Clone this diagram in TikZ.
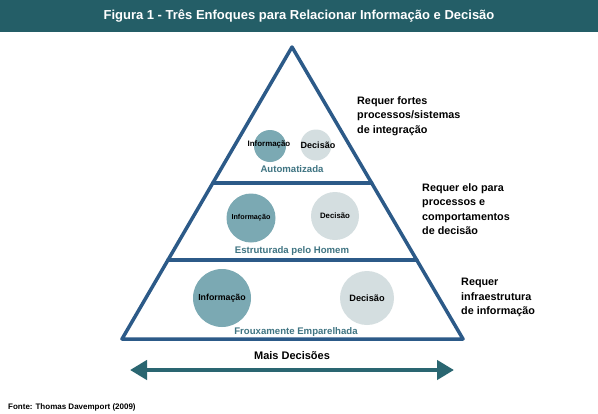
\documentclass[tikz,border=0pt]{standalone}
\usepackage{fontspec}
\setmainfont{Liberation Sans}
\usetikzlibrary{arrows.meta}
\definecolor{titlebg}{HTML}{245E67}
\definecolor{tri}{HTML}{2C5A88}
\definecolor{infoc}{HTML}{7BA9B3}
\definecolor{decc}{HTML}{D4DEE0}
\definecolor{teal}{HTML}{3F7482}
\definecolor{arr}{HTML}{2A6671}
\tikzset{
  edge/.style={draw=tri, line width=3.5pt, line cap=round, line join=round},
  info/.style={circle, fill=infoc, inner sep=0pt},
  dec/.style={circle, fill=decc, inner sep=0pt},
  clabel/.style={font=\bfseries\fontsize{#1}{#1}\selectfont, text=black, inner sep=0pt},
  slabel/.style={font=\bfseries\fontsize{9.6}{10}\selectfont, text=teal, inner sep=0pt},
  rtext/.style={font=\bfseries\fontsize{10.8}{14.5}\selectfont, align=left, anchor=north west, inner sep=0pt},
}
\begin{document}
\begin{tikzpicture}[x=1pt,y=-1pt]
\useasboundingbox (0,0) rectangle (598,413);
\fill[white] (0,0) rectangle (598,413);
\fill[titlebg] (0,0) rectangle (598,32);
\node[font=\bfseries\fontsize{13}{13}\selectfont, text=white] (title) at (299,16) {Figura 1 - Três Enfoques para Relacionar Informação e Decisão};
% triangle
\coordinate (apex) at (292,47);
\coordinate (bl) at (122,339);
\coordinate (br) at (463,339);
\coordinate (l1) at (212.8,183);
\coordinate (r1) at (371.7,183);
\coordinate (l2) at (168,260);
\coordinate (r2) at (416.8,260);
% circles
\node[info, minimum size=32pt] (i1) at (270,146) {};
\node[dec, minimum size=31pt] (d1) at (316,145) {};
\node[info, minimum size=49pt] (i2) at (251,218) {};
\node[dec, minimum size=48pt] (d2) at (335,216) {};
\node[info, minimum size=58pt] (i3) at (222,298) {};
\node[dec, minimum size=54pt] (d3) at (367,298) {};
\draw[edge] (bl) -- (apex) -- (br) -- cycle;
\draw[edge] (l1) -- (r1);
\draw[edge] (l2) -- (r2);
\node[clabel=7.9] (ti1) at (269,144) {Informação};
\node[clabel=9] (td1) at (318,145) {Decisão};
\node[clabel=7.2] (ti2) at (i2) {Informação};
\node[clabel=7.8] (td2) at (d2) {Decisão};
\node[clabel=8.8] (ti3) at (i3) {Informação};
\node[clabel=9.2] (td3) at (d3) {Decisão};
\node[slabel] (s1) at (292,169) {Automatizada};
\node[slabel] (s2) at (292,251) {Estruturada pelo Homem};
\node[slabel] (s3) at (296,332) {Frouxamente Emparelhada};
% right texts
\node[rtext] (r1t) at (357,96) {Requer fortes\\processos/sistemas\\de integração};
\node[rtext] (r2t) at (422,183) {Requer elo para\\processos e\\comportamentos\\de decisão};
\node[rtext] (r3t) at (461,278) {Requer\\infraestrutura\\de informação};
% arrow
\coordinate (al) at (130,370);
\coordinate (ar) at (454,370);
\draw[draw=arr, line width=4.5pt, {Triangle[length=17pt,width=19pt]}-{Triangle[length=17pt,width=19pt]}] (al) -- (ar);
\node[font=\bfseries\fontsize{11}{11}\selectfont] (md) at (292,356) {Mais Decisões};
\node[font=\bfseries\fontsize{8}{8}\selectfont, anchor=west, inner sep=0pt] (fonte) at (8,407) {Fonte: Thomas Davemport (2009)};
\end{tikzpicture}
\end{document}
